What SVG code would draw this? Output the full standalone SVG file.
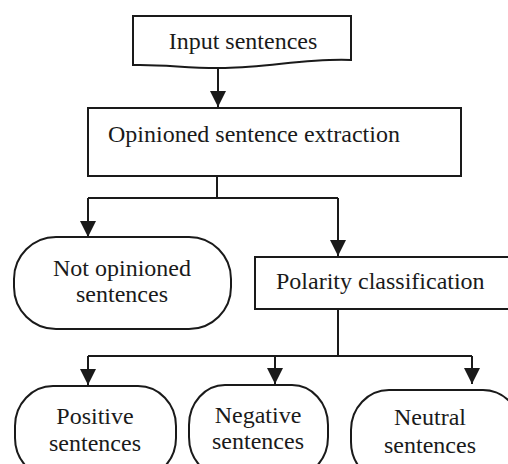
<svg xmlns="http://www.w3.org/2000/svg" width="508" height="464" viewBox="0 0 508 464">
<style>
.s{fill:#fff;stroke:#1a1a1a;stroke-width:2}
.t{font-family:"Liberation Serif","Tinos","Times New Roman","Noto Serif","Nimbus Roman","FreeSerif","DejaVu Serif",serif;font-size:24px;fill:#1a1a1a}
.c{text-anchor:middle}
.l{fill:none;stroke:#1a1a1a;stroke-width:2}
</style>
<defs>
<marker id="a" markerUnits="userSpaceOnUse" viewBox="0 0 16 16" markerWidth="16" markerHeight="16" refX="16" refY="8" orient="auto">
<path d="M0,0 L16,8 L0,16 Z" fill="#1a1a1a"/>
</marker>
</defs>
<g id="connectors">
<path class="l" d="M218,68 V107" marker-end="url(#a)"/>
<path class="l" d="M217,176 V198 M88,198 H338"/>
<path class="l" d="M88,198 V237" marker-end="url(#a)"/>
<path class="l" d="M338,198 V256" marker-end="url(#a)"/>
<path class="l" d="M338,309 V356 M88,356 H472"/>
<path class="l" d="M88,356 V385" marker-end="url(#a)"/>
<path class="l" d="M275,356 V384" marker-end="url(#a)"/>
<path class="l" d="M472,356 V384" marker-end="url(#a)"/>
</g>
<g id="input">
<path class="s" d="M133,16 H351 V60 C310,58 270,67 225,68 C190,69 165,64 133,65 Z"/>
<text class="t c" x="243" y="49">Input sentences</text>
</g>
<g id="extraction">
<rect class="s" x="88" y="108" width="373" height="68"/>
<text class="t" x="108" y="142">Opinioned sentence extraction</text>
</g>
<g id="notopinioned">
<rect class="s" x="14" y="237" width="217" height="92" rx="42" ry="42"/>
<text class="t c" x="122" y="276">Not opinioned</text>
<text class="t c" x="122" y="302">sentences</text>
</g>
<g id="polarity">
<rect class="s" x="255" y="257" width="260" height="52"/>
<text class="t" x="276" y="289">Polarity classification</text>
</g>
<g id="positive">
<rect class="s" x="15" y="386" width="161" height="92" rx="38" ry="40"/>
<text class="t c" x="95" y="424">Positive</text>
<text class="t c" x="95" y="451">sentences</text>
</g>
<g id="negative">
<rect class="s" x="189" y="385" width="139" height="92" rx="36" ry="40"/>
<text class="t c" x="258" y="423">Negative</text>
<text class="t c" x="258" y="449">sentences</text>
</g>
<g id="neutral">
<rect class="s" x="351" y="390" width="170" height="92" rx="38" ry="40"/>
<text class="t c" x="430" y="425">Neutral</text>
<text class="t c" x="430" y="453">sentences</text>
</g>
</svg>
